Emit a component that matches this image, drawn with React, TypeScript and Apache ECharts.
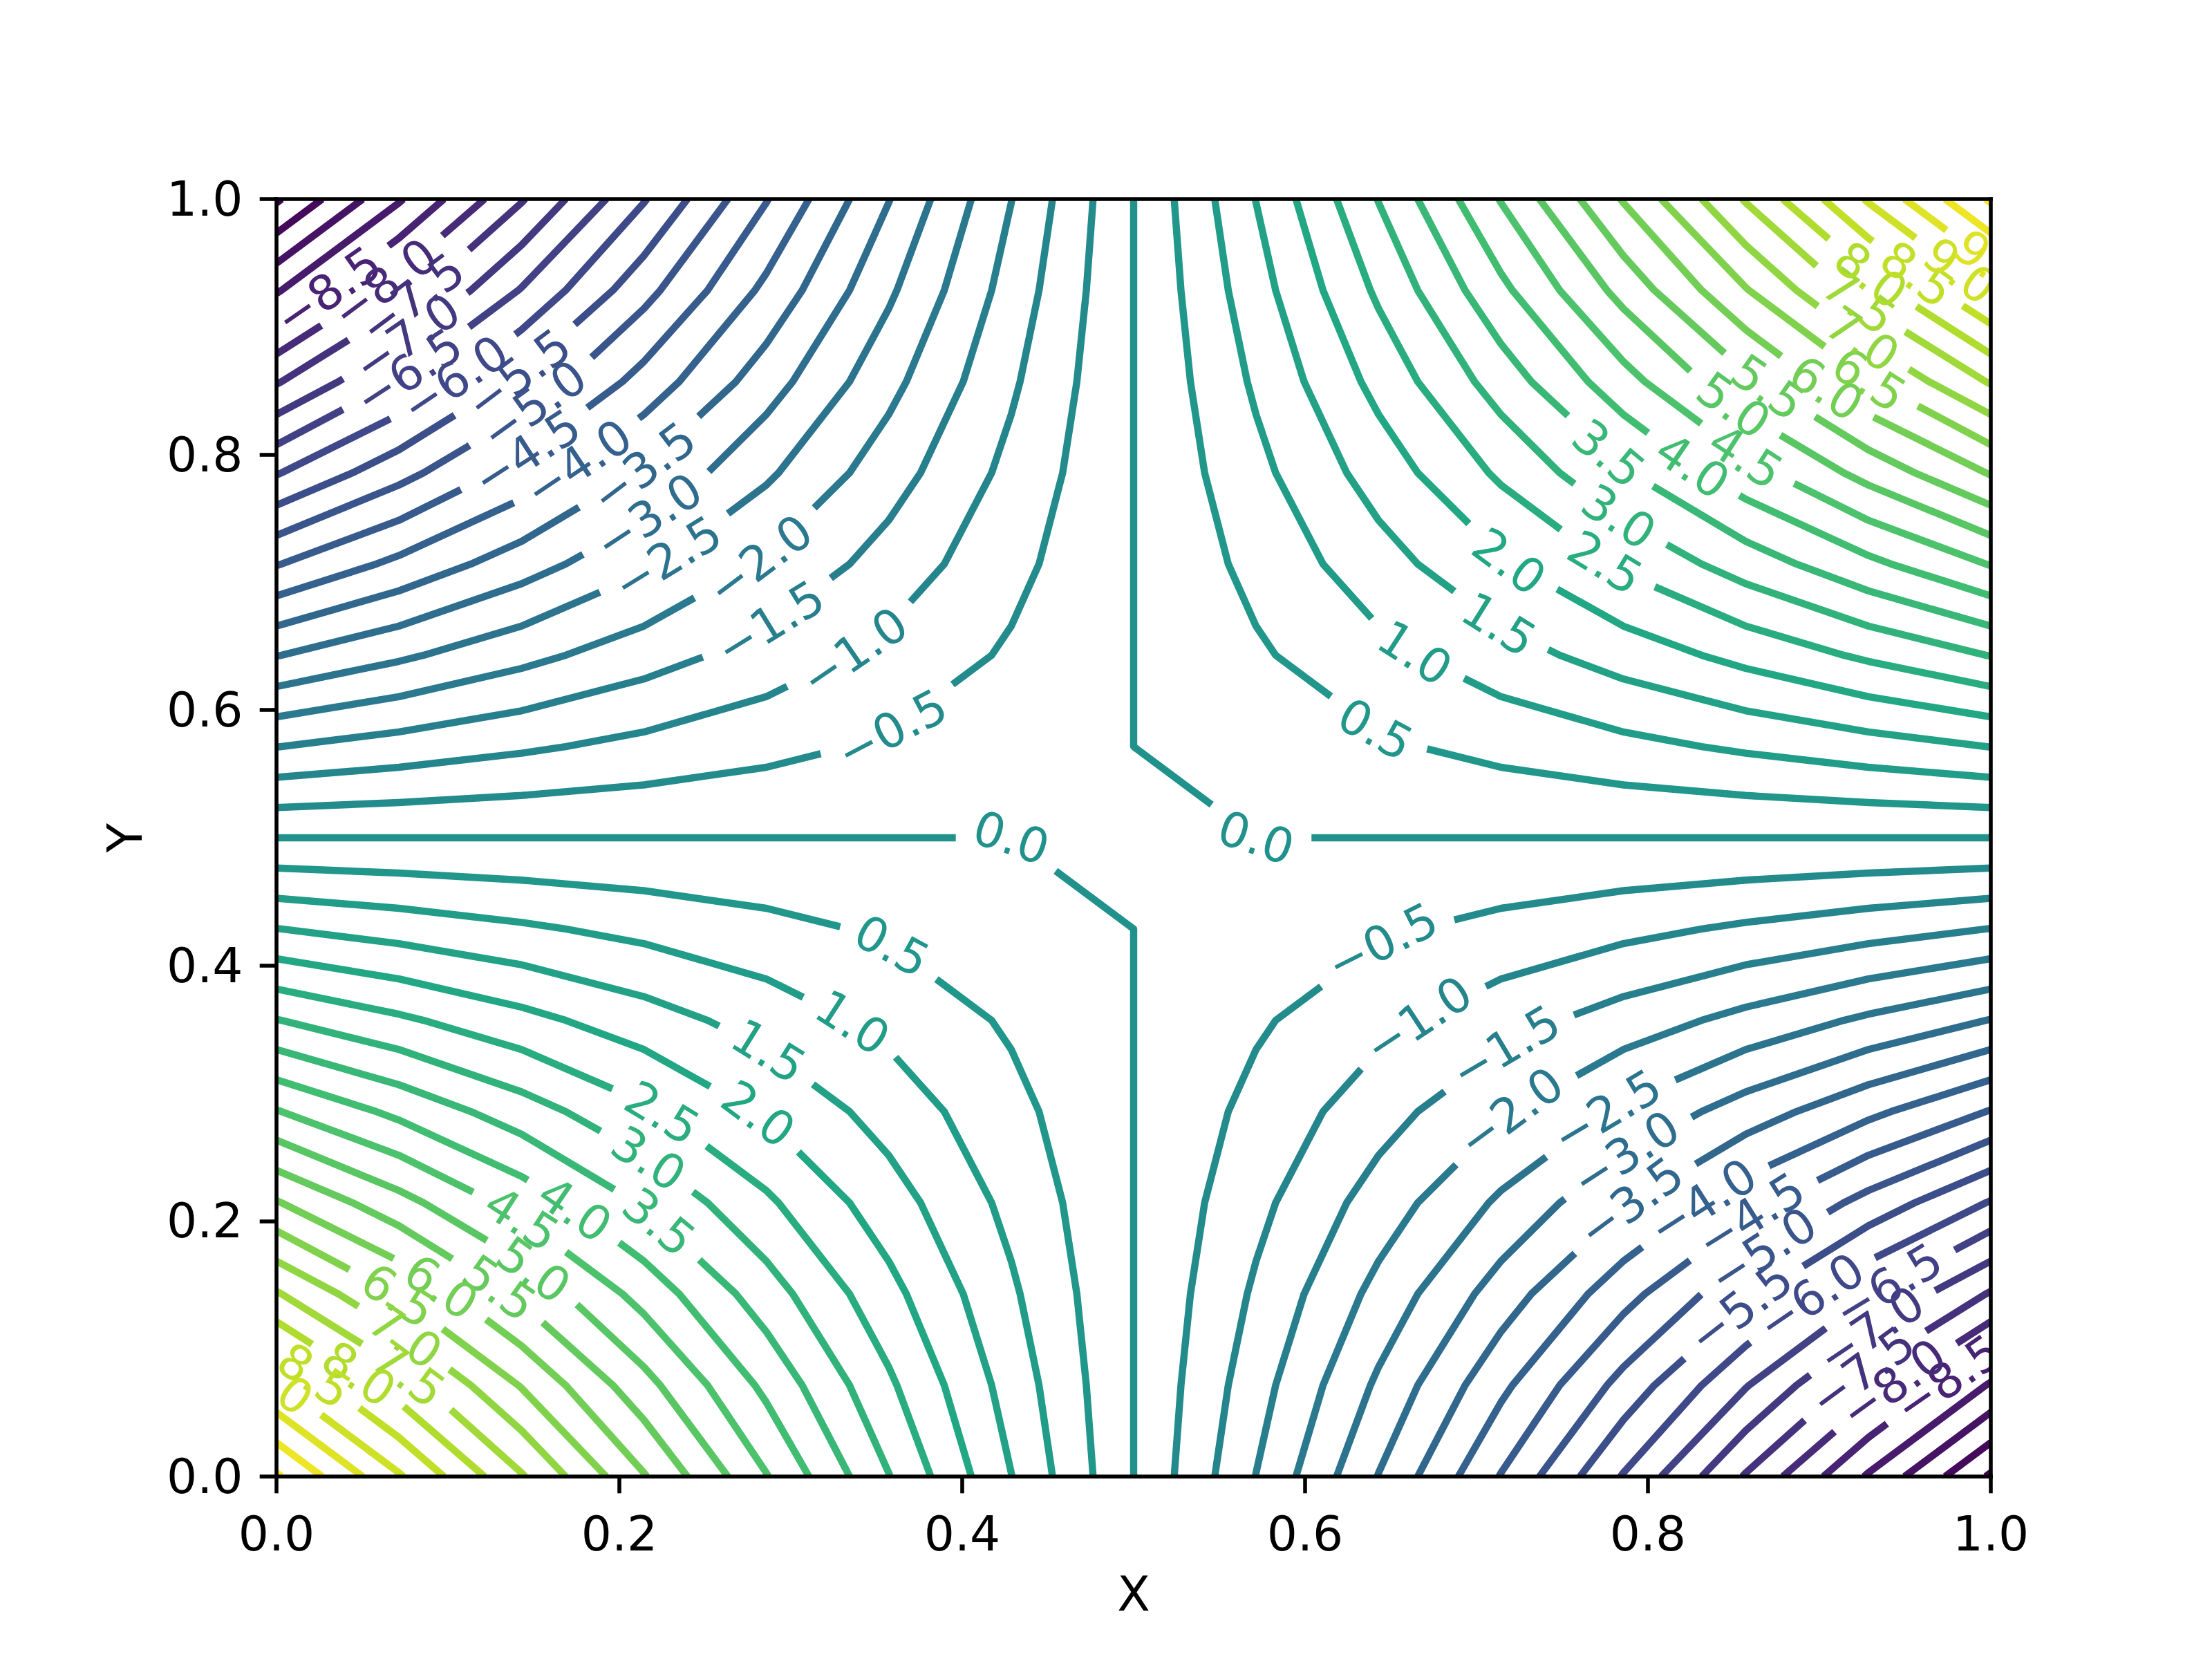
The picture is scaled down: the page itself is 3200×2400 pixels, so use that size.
import React, { useEffect, useRef } from 'react';
import * as echarts from 'echarts';

// ---- data ----
const xGrid = [0, 0.0714, 0.1429, 0.2143, 0.2857, 0.3571, 0.4286, 0.5, 0.5714, 0.6429, 0.7143, 0.7857, 0.8571, 0.9286, 1];
const yGrid = [0, 0.0714, 0.1429, 0.2143, 0.2857, 0.3571, 0.4286, 0.5, 0.5714, 0.6429, 0.7143, 0.7857, 0.8571, 0.9286, 1];
// z values, one row per y (y = 0 first)
const zRows = [
  [10.5625, 9.0536, 7.5446, 6.0357, 4.5268, 3.0179, 1.5089, 0, -1.5089, -3.0179, -4.5268, -6.0357, -7.5446, -9.0536, -10.5625],
  [9.0536, 7.7602, 6.4668, 5.1735, 3.8801, 2.5867, 1.2934, 0, -1.2934, -2.5867, -3.8801, -5.1735, -6.4668, -7.7602, -9.0536],
  [7.5446, 6.4668, 5.389, 4.3112, 3.2334, 2.1556, 1.0778, 0, -1.0778, -2.1556, -3.2334, -4.3112, -5.389, -6.4668, -7.5446],
  [6.0357, 5.1735, 4.3112, 3.449, 2.5867, 1.7245, 0.8622, 0, -0.8622, -1.7245, -2.5867, -3.449, -4.3112, -5.1735, -6.0357],
  [4.5268, 3.8801, 3.2334, 2.5867, 1.9401, 1.2934, 0.6467, 0, -0.6467, -1.2934, -1.9401, -2.5867, -3.2334, -3.8801, -4.5268],
  [3.0179, 2.5867, 2.1556, 1.7245, 1.2934, 0.8622, 0.4311, 0, -0.4311, -0.8622, -1.2934, -1.7245, -2.1556, -2.5867, -3.0179],
  [1.5089, 1.2934, 1.0778, 0.8622, 0.6467, 0.4311, 0.2156, 0, -0.2156, -0.4311, -0.6467, -0.8622, -1.0778, -1.2934, -1.5089],
  [0, 0, 0, 0, 0, 0, 0, 0, 0, 0, 0, 0, 0, 0, 0],
  [-1.5089, -1.2934, -1.0778, -0.8622, -0.6467, -0.4311, -0.2156, 0, 0.2156, 0.4311, 0.6467, 0.8622, 1.0778, 1.2934, 1.5089],
  [-3.0179, -2.5867, -2.1556, -1.7245, -1.2934, -0.8622, -0.4311, 0, 0.4311, 0.8622, 1.2934, 1.7245, 2.1556, 2.5867, 3.0179],
  [-4.5268, -3.8801, -3.2334, -2.5867, -1.9401, -1.2934, -0.6467, 0, 0.6467, 1.2934, 1.9401, 2.5867, 3.2334, 3.8801, 4.5268],
  [-6.0357, -5.1735, -4.3112, -3.449, -2.5867, -1.7245, -0.8622, 0, 0.8622, 1.7245, 2.5867, 3.449, 4.3112, 5.1735, 6.0357],
  [-7.5446, -6.4668, -5.389, -4.3112, -3.2334, -2.1556, -1.0778, 0, 1.0778, 2.1556, 3.2334, 4.3112, 5.389, 6.4668, 7.5446],
  [-9.0536, -7.7602, -6.4668, -5.1735, -3.8801, -2.5867, -1.2934, 0, 1.2934, 2.5867, 3.8801, 5.1735, 6.4668, 7.7602, 9.0536],
  [-10.5625, -9.0536, -7.5446, -6.0357, -4.5268, -3.0179, -1.5089, 0, 1.5089, 3.0179, 4.5268, 6.0357, 7.5446, 9.0536, 10.5625],
];
const levels = [-10.5, -10, -9.5, -9, -8.5, -8, -7.5, -7, -6.5, -6, -5.5, -5, -4.5, -4, -3.5, -3, -2.5, -2, -1.5, -1, -0.5,
  0, 0.5, 1, 1.5, 2, 2.5, 3, 3.5, 4, 4.5, 5, 5.5, 6, 6.5, 7, 7.5, 8, 8.5, 9, 9.5, 10, 10.5];

// inline label positions (x of the label centre on each contour)
const tlLabelLevels = [-0.5, -1, -1.5, -2, -2.5, -3, -3.5, -4, -4.5, -5, -5.5, -6, -6.5, -7, -7.5, -8, -8.5];
const tlLabelX = [0.359, 0.337, 0.288, 0.282, 0.228, 0.217, 0.214, 0.176, 0.146, 0.15, 0.141, 0.104, 0.077, 0.076, 0.079, 0.063, 0.03];
const brLabelLevels = [-0.5, -1, -1.5, -2, -2.5, -3, -3.5, -4, -4.5, -5, -5.5, -6, -6.5, -7, -7.5, -8, -8.5];
const brLabelX = [0.645, 0.666, 0.717, 0.72, 0.776, 0.787, 0.79, 0.832, 0.86, 0.867, 0.854, 0.895, 0.94, 0.93, 0.925, 0.943, 0.975];
const blLabelLevels = [0, 0.5, 1, 1.5, 2, 2.5, 3, 3.5, 4, 4.5, 5, 5.5, 6, 6.5, 7, 7.5, 8, 8.5, 9];
const blLabelX = [0.4286, 0.359, 0.336, 0.287, 0.281, 0.225, 0.217, 0.223, 0.174, 0.143, 0.15, 0.13, 0.096, 0.071, 0.075, 0.077, 0.048, 0.022, 0];
const trLabelLevels = [0, 0.5, 1, 1.5, 2, 2.5, 3, 3.5, 4, 4.5, 5, 5.5, 6, 6.5, 7, 7.5, 8, 8.5, 9, 9.5];
const trLabelX = [0.5714, 0.641, 0.664, 0.713, 0.719, 0.775, 0.783, 0.777, 0.826, 0.857, 0.85, 0.87, 0.904, 0.929, 0.925, 0.923, 0.93, 0.957, 0.982, 1];

const xTicks = [0, 0.2, 0.4, 0.6, 0.8, 1];

// ---- styling ----
const FS = 69.44;
const LW = 10.42;
const SPINE = 5.56;
const TICK = 24.3;
const FONT = 'DejaVu Sans';
const GAP_PAD = 50;

const VIRIDIS_STOPS = ['#440154', '#482475', '#414487', '#355f8d', '#2a788e', '#21918c', '#22a884', '#44bf70', '#7ad151', '#bddf26', '#fde725'];
function hexToRgb(h: string) {
  return [parseInt(h.slice(1, 3), 16), parseInt(h.slice(3, 5), 16), parseInt(h.slice(5, 7), 16)];
}
function viridis(t: number) {
  const tt = Math.max(0, Math.min(1, t)) * 10;
  const i = Math.min(9, Math.floor(tt));
  const f = tt - i;
  const a = hexToRgb(VIRIDIS_STOPS[i]);
  const b = hexToRgb(VIRIDIS_STOPS[i + 1]);
  const c = a.map((v, k) => Math.round(v + (b[k] - v) * f));
  return `rgb(${c[0]},${c[1]},${c[2]})`;
}

function fmtLevel(v: number) {
  const s = Math.abs(v).toFixed(1);
  return v < 0 ? '\u2212' + s : s;
}

type Path = { level: number; pts: [number, number][]; labelX: number | null };

function contourPaths(level: number): [number, number][][] {
  const nx = xGrid.length, ny = yGrid.length;
  const pts: Record<string, [number, number]> = {};
  const segs: [string, string][] = [];
  const above = (i: number, j: number) => zRows[j][i] > level;
  const ep = (key: string, i1: number, j1: number, i2: number, j2: number) => {
    if (!pts[key]) {
      const z1 = zRows[j1][i1], z2 = zRows[j2][i2];
      const t = (level - z1) / (z2 - z1);
      pts[key] = [xGrid[i1] + t * (xGrid[i2] - xGrid[i1]), yGrid[j1] + t * (yGrid[j2] - yGrid[j1])];
    }
    return key;
  };
  for (let j = 0; j < ny - 1; j++) {
    for (let i = 0; i < nx - 1; i++) {
      const a = above(i, j), b = above(i + 1, j), c = above(i + 1, j + 1), d = above(i, j + 1);
      const e: string[] = [];
      if (a !== b) e.push(ep(`h${i}_${j}`, i, j, i + 1, j));
      if (b !== c) e.push(ep(`v${i + 1}_${j}`, i + 1, j, i + 1, j + 1));
      if (c !== d) e.push(ep(`h${i}_${j + 1}`, i, j + 1, i + 1, j + 1));
      if (d !== a) e.push(ep(`v${i}_${j}`, i, j, i, j + 1));
      if (e.length === 2) segs.push([e[0], e[1]]);
      else if (e.length === 4) { segs.push([e[0], e[1]]); segs.push([e[2], e[3]]); }
    }
  }
  const adj: Record<string, number[]> = {};
  segs.forEach((s, k) => { (adj[s[0]] = adj[s[0]] || []).push(k); (adj[s[1]] = adj[s[1]] || []).push(k); });
  const used = segs.map(() => false);
  const out: [number, number][][] = [];
  const trace = (start: string) => {
    const path: [number, number][] = [pts[start]];
    let cur = start;
    for (;;) {
      const k = (adj[cur] || []).find((q) => !used[q]);
      if (k === undefined) break;
      used[k] = true;
      const nxt = segs[k][0] === cur ? segs[k][1] : segs[k][0];
      path.push(pts[nxt]);
      cur = nxt;
    }
    if (path.length > 1) out.push(path);
  };
  Object.keys(adj).forEach((key) => { if (adj[key].length === 1 && !used[adj[key][0]]) trace(key); });
  segs.forEach((s, k) => { if (!used[k]) trace(s[0]); });
  return out;
}

function buildPaths(): Path[] {
  const all: Path[] = [];
  levels.forEach((L) => {
    contourPaths(L).forEach((pts) => {
      const meanX = pts.reduce((s, p) => s + p[0], 0) / pts.length;
      const left = meanX < 0.5;
      let lv: number[], lx: number[];
      if (L < 0) { lv = left ? tlLabelLevels : brLabelLevels; lx = left ? tlLabelX : brLabelX; }
      else { lv = left ? blLabelLevels : trLabelLevels; lx = left ? blLabelX : trLabelX; }
      const idx = lv.findIndex((v) => Math.abs(v - L) < 1e-9);
      all.push({ level: L, pts, labelX: idx >= 0 ? lx[idx] : null });
    });
  });
  return all;
}

let measureCtx: CanvasRenderingContext2D | null = null;
function textWidth(s: string) {
  if (!measureCtx) measureCtx = document.createElement('canvas').getContext('2d');
  measureCtx!.font = `${FS}px "${FONT}"`;
  return measureCtx!.measureText(s).width;
}

export default function App() {
  const ref = useRef<HTMLDivElement>(null);
  useEffect(() => {
    document.body.style.margin = '0';
    const chart = echarts.init(ref.current!, undefined, { renderer: 'svg' });
    const allPaths = buildPaths();
    const lo = levels[0], hi = levels[levels.length - 1];

    const renderItem = (params: any, api: any) => {
      const path = allPaths[params.dataIndex];
      const color = viridis((path.level - lo) / (hi - lo));
      const px: number[][] = path.pts.map((p) => api.coord(p));
      const cum = [0];
      for (let k = 1; k < px.length; k++) cum.push(cum[k - 1] + Math.hypot(px[k][0] - px[k - 1][0], px[k][1] - px[k - 1][1]));
      const total = cum[cum.length - 1];
      const pointAt = (s: number) => {
        for (let k = 0; k < px.length - 1; k++) {
          if (s <= cum[k + 1] || k === px.length - 2) {
            const len = cum[k + 1] - cum[k];
            const f = len > 0 ? Math.max(0, Math.min(1, (s - cum[k]) / len)) : 0;
            return [px[k][0] + f * (px[k + 1][0] - px[k][0]), px[k][1] + f * (px[k + 1][1] - px[k][1])];
          }
        }
        return px[px.length - 1];
      };
      const sub = (a: number, b: number) => {
        const r: number[][] = [pointAt(a)];
        for (let k = 0; k < px.length; k++) if (cum[k] > a && cum[k] < b) r.push(px[k]);
        r.push(pointAt(b));
        return r;
      };
      const lineStyle = { stroke: color, lineWidth: LW, fill: null, lineCap: 'butt', lineJoin: 'round' };
      const children: any[] = [];
      if (path.labelX === null) {
        children.push({ type: 'polyline', shape: { points: px }, style: lineStyle });
      } else {
        const t = path.labelX;
        let s0 = -1;
        for (let k = 0; k < path.pts.length - 1; k++) {
          const x1 = path.pts[k][0], x2 = path.pts[k + 1][0];
          if ((x1 - t) * (x2 - t) <= 0) {
            const f = x2 !== x1 ? (t - x1) / (x2 - x1) : 0;
            s0 = cum[k] + f * (cum[k + 1] - cum[k]);
            break;
          }
        }
        if (s0 < 0) s0 = total / 2;
        const text = fmtLevel(path.level);
        const g = textWidth(text) + GAP_PAD;
        const a = Math.max(0, s0 - g / 2);
        const b = Math.min(total, s0 + g / 2);
        if (a > 0) children.push({ type: 'polyline', shape: { points: sub(0, a) }, style: lineStyle });
        if (b < total) children.push({ type: 'polyline', shape: { points: sub(b, total) }, style: lineStyle });
        const P = pointAt(s0), P1 = pointAt(a), P2 = pointAt(b);
        let ang = Math.atan2(P2[1] - P1[1], P2[0] - P1[0]);
        if (ang > Math.PI / 2) ang -= Math.PI;
        if (ang < -Math.PI / 2) ang += Math.PI;
        children.push({
          type: 'text', x: P[0], y: P[1], rotation: -ang,
          style: { text, fill: color, fontSize: FS, fontFamily: FONT, align: 'center', verticalAlign: 'middle' },
        });
      }
      return { type: 'group', children };
    };

    const axisCommon = {
      type: 'value', min: 0, max: 1, interval: 0.2, z: 10,
      splitLine: { show: false },
      axisLine: { show: true, onZero: false, lineStyle: { color: '#000', width: SPINE, cap: 'square' } },
    };
    const labelStyle = { fontSize: FS, fontFamily: FONT, color: '#000' };

    chart.setOption({
      animation: false,
      backgroundColor: '#fff',
      grid: { left: 400, right: 320, top: 288, bottom: 264, containLabel: false },
      xAxis: [
        {
          ...axisCommon, position: 'bottom',
          name: 'X', nameLocation: 'middle', nameGap: 135, nameTextStyle: labelStyle,
          axisTick: { show: true, inside: false, length: TICK, lineStyle: { color: '#000', width: SPINE } },
          axisLabel: { show: true, margin: 48.6, showMinLabel: true, showMaxLabel: true, ...labelStyle, formatter: (v: number) => v.toFixed(1) },
        },
        { ...axisCommon, position: 'top', axisTick: { show: false }, axisLabel: { show: false } },
      ],
      yAxis: [
        {
          ...axisCommon, position: 'left',
          name: 'Y', nameLocation: 'middle', nameGap: 185, nameTextStyle: labelStyle,
          axisTick: { show: true, inside: false, length: TICK, lineStyle: { color: '#000', width: SPINE } },
          axisLabel: { show: true, margin: 48.6, showMinLabel: true, showMaxLabel: true, ...labelStyle, formatter: (v: number) => v.toFixed(1) },
        },
        { ...axisCommon, position: 'right', axisTick: { show: false }, axisLabel: { show: false } },
      ],
      series: [
        {
          type: 'custom',
          xAxisIndex: 0, yAxisIndex: 0,
          clip: true,
          z: 2,
          renderItem,
          encode: { x: 0, y: 1 },
          data: allPaths.map((p, k) => [p.pts[0][0], p.pts[0][1], k]),
        },
      ],
    });
    void xTicks;
    return () => chart.dispose();
  }, []);
  return <div ref={ref} style={{ width: 3200, height: 2400 }} />;
}
